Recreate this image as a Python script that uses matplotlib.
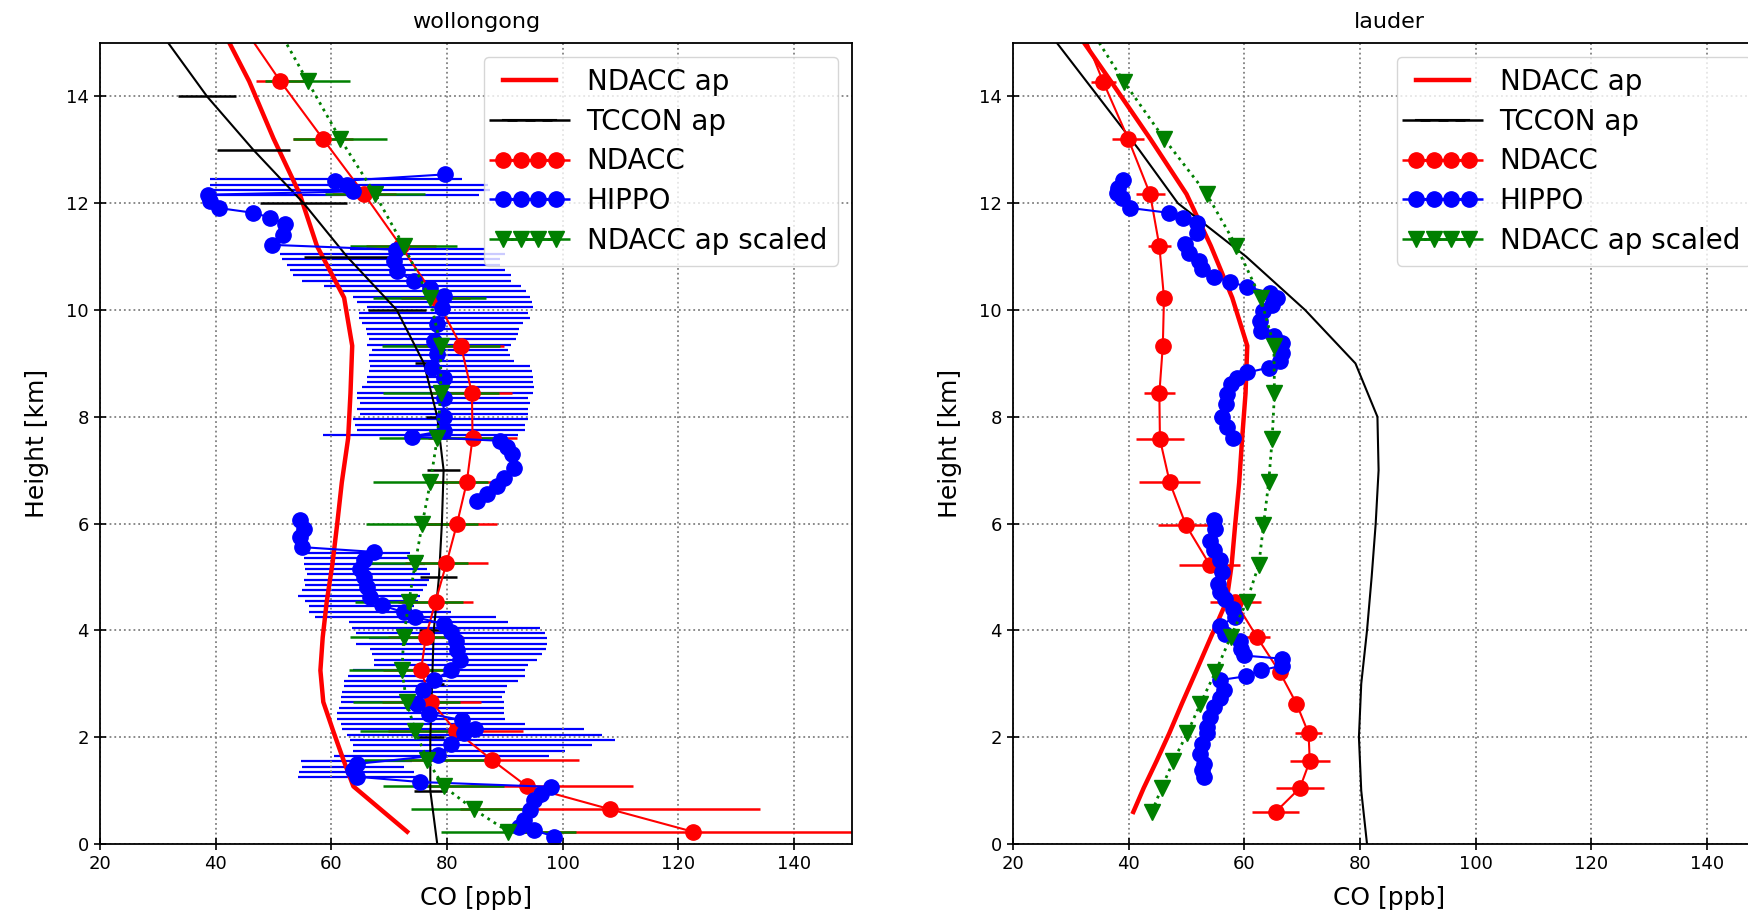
import matplotlib
matplotlib.use("Agg")
import matplotlib.pyplot as plt

nan = float('nan')  # gap in the HIPPO profile

# ---------------- wollongong ----------------
wol_h = [0.23, 0.65, 1.08, 1.57, 2.12, 2.66, 3.25, 3.87, 4.54, 5.26, 5.99,
         6.77, 7.60, 8.44, 9.33, 10.23, 11.2, 12.18, 13.21, 14.28, 15.5]
wol_ndacc = [122.5, 108.2, 93.8, 87.8, 81.5, 77.3, 75.5, 76.3, 78.0, 79.9, 81.7,
             83.4, 84.4, 84.3, 82.4, 78.0, 72.0, 65.6, 58.5, 51.2, 43.5]
wol_ndacc_err = [30, 25.9, 18.3, 15, 11.7, 8.6, 6.5, 6.5, 6.5, 7.2, 7.0,
                 7.0, 7.7, 7.0, 7.4, 6.0, 6.0, 5.5, 5.2, 4.2, 4.0]
wol_ap = [73.1, 68.5, 63.8, 62.1, 60.3, 58.6, 58.1, 58.5, 59.2, 60.2, 61.0,
          61.8, 62.9, 63.3, 63.6, 62.2, 57.5, 54.5, 50.0, 45.8, 40.0]
wol_scaled = [90.6, 84.6, 79.4, 76.6, 74.5, 73.0, 72.2, 72.5, 73.4, 74.5, 75.7,
              77.1, 78.3, 78.9, 78.9, 77.0, 72.5, 67.5, 61.5, 55.9, 49.6]
wol_scaled_err = [11.7, 10.9, 10.4, 10.9, 9.5, 9.2, 9.2, 9.2, 9.4, 9.2, 9.7,
                  9.9, 10, 10, 10.2, 9.8, 9.2, 8.6, 8.1, 7.3, 7.0]

tccon_h = [0, 1, 2, 3, 4, 5, 6, 7, 8, 9, 10, 11, 12, 13, 14, 15, 16]
wol_tccon = [78.3, 77.1, 77.1, 77.4, 77.7, 78.6, 79.1, 79.4, 78.3, 76.0, 71.3,
             62.7, 55.2, 46.5, 38.5, 31.8, 25.0]
wol_tccon_err = [2.7, 2.9, 2.3, 2.0, 2.5, 3.2, 2.5, 2.8, 2.0, 1.5, 5.0,
                 7.4, 7.5, 6.3, 5.0, 0, 0]

wol_hippo_h = [12.54, 12.41, 12.34, 12.22, 12.16, 12.04, 11.91, 11.82, 11.73, 11.61,
               11.41, 11.22, 11.13, 10.92, 10.73, 10.54, 10.42, 10.26, 10.04, 9.73,
               9.42, 9.17, 8.92, 8.73, 8.36, 7.99, 7.74, 7.63, 7.55, 7.43,
               7.30, 7.05, 6.86, 6.71, 6.55, 6.43, 6.25, 6.06, 5.90, 5.74, 5.56,
               5.47, 5.31, 5.15, 5.00, 4.81, 4.62, 4.47, 4.34, 4.25, 4.12,
               3.97, 3.81, 3.63, 3.44, 3.25, 3.07, 2.88, 2.63, 2.44, 2.32,
               2.16, 2.07, 1.88, 1.66, 1.50, 1.38, 1.26, 1.16, 1.07, 0.94,
               0.82, 0.64, 0.45, 0.32, 0.26, 0.14]
wol_hippo = [79.7, 60.7, 62.7, 63.8, 38.7, 39.0, 40.5, 46.5, 49.4, 52.0,
             51.7, 49.7, 71.1, 70.8, 71.3, 74.2, 77.1, 79.4, 79.1, 78.3,
             77.7, 78.3, 77.4, 79.4, 79.4, 79.4, 79.4, 73.9, 89.2, 90.4,
             91.3, 91.6, 89.8, 88.6, 86.9, 85.2, nan, 54.6, 55.2, 54.6, 54.9,
             67.3, 65.6, 65.0, 65.6, 66.2, 66.7, 68.7, 72.5, 74.5, 79.4,
             80.6, 81.5, 81.7, 82.3, 80.6, 77.7, 75.9, 74.8, 76.8, 82.6,
             84.9, 82.9, 80.6, 78.5, 64.4, 63.8, 64.4, 75.4, 97.9, 96.2,
             95.0, 94.4, 93.3, 92.4, 95.0, 98.5]

# HIPPO spread (left / right end of each horizontal bar)
bar_h = [12.45, 12.35, 12.25, 12.15,
         11.15, 11.05, 10.95, 10.85, 10.75, 10.65, 10.55, 10.45, 10.35, 10.25,
         10.15, 10.05, 9.95, 9.85, 9.75, 9.65, 9.55, 9.45, 9.35, 9.25,
         9.15, 9.05, 8.95, 8.85, 8.75, 8.65, 8.55, 8.45, 8.35, 8.25,
         8.15, 8.05, 7.95, 7.85, 7.75, 7.65,
         5.45, 5.35, 5.25, 5.15, 5.05, 4.95, 4.85, 4.75, 4.65, 4.55,
         4.45, 4.35, 4.25, 4.15, 4.05, 3.95, 3.85, 3.75, 3.65, 3.55,
         3.45, 3.35, 3.25, 3.15, 3.05, 2.95, 2.85, 2.75, 2.65, 2.55,
         2.45, 2.35, 2.25, 2.15, 2.05, 1.95, 1.85, 1.75, 1.65, 1.55,
         1.45, 1.35, 1.25]
bar_lo = [39.0, 39.0, 39.5, 38.8,
          63.3, 51.2, 51.5, 52.3, 52.9, 53.3, 55.0, 58.7, 61.5, 63.8,
          64.4, 66.2, 64.8, 64.8, 65.3, 66.0, 66.2, 66.5, 66.2, 67.0,
          66.5, 66.5, 66.7, 66.5, 66.2, 66.2, 65.3, 64.4, 64.4, 65.0,
          64.4, 65.0, 63.8, 64.0, 64.4, 58.6,
          54.9, 55.2, 55.2, 55.5, 55.8, 55.2, 55.5, 54.9, 54.3, 55.5,
          56.1, 56.1, 57.1, 63.0, 63.6, 64.2, 66.5, 64.2, 66.7, 67.0,
          67.3, 67.3, 63.8, 62.9, 62.2, 62.2, 61.9, 61.6, 61.6, 61.3,
          60.9, 60.9, 61.6, 61.9, 62.7, 63.3, 63.8, 63.8, 60.5, 54.7,
          55.0, 54.4, 54.2]
bar_hi = [82.6, 87.0, 87.5, 85.5,
          86.6, 90.0, 89.2, 89.2, 90.0, 91.1, 91.1, 92.8, 93.7, 94.3,
          94.6, 94.8, 94.0, 94.3, 93.1, 92.5, 92.2, 92.0, 91.1, 90.5,
          90.8, 91.5, 94.3, 94.6, 94.8, 94.8, 95.1, 94.8, 94.0, 94.3,
          94.0, 94.0, 94.0, 93.5, 93.5, 92.2,
          73.6, 75.9, 76.2, 76.5, 77.1, 76.8, 76.5, 75.9, 75.3, 75.0,
          74.2, 80.6, 88.4, 90.6, 96.1, 97.0, 97.3, 97.3, 97.1, 96.4,
          95.5, 94.0, 93.5, 93.5, 92.3, 90.3, 90.0, 89.5, 89.8, 89.8,
          89.8, 90.0, 93.5, 103.6, 106.8, 109.1, 105.0, 100.4, 97.6, 74.0,
          72.6, 74.3, 75.9]

# ---------------- lauder ----------------
lau_h = [0.60, 1.05, 1.55, 2.07, 2.63, 3.22, 3.87, 4.54, 5.23, 5.97,
         6.77, 7.58, 8.44, 9.33, 10.23, 11.2, 12.17, 13.21, 14.27, 15.5]
lau_ndacc = [65.4, 69.6, 71.3, 71.1, 69.0, 66.1, 62.2, 58.4, 54.0, 49.9,
             47.1, 45.4, 45.3, 45.9, 46.1, 45.3, 43.7, 39.9, 35.6, 31.0]
lau_ndacc_err = [4.1, 4.1, 3.5, 2.3, 0.5, 0.5, 2.3, 4.4, 5.3, 4.8,
                 5.3, 4.2, 2.7, 0.5, 0.5, 2.0, 2.5, 2.7, 2.2, 2.0]
lau_ap = [40.8, 42.6, 44.8, 47.0, 49.2, 51.6, 54.2, 56.9, 57.8, 58.4,
          59.1, 59.6, 60.2, 60.5, 57.9, 54.2, 50.0, 43.7, 37.0, 29.1]
lau_scaled = [44.0, 45.7, 47.7, 50.1, 52.4, 55.0, 57.6, 60.4, 62.5, 63.3,
              64.2, 64.8, 65.2, 65.1, 62.8, 58.6, 53.5, 46.1, 39.2, 32.0]
lau_tccon = [81.2, 80.2, 79.8, 80.2, 81.2, 82.0, 82.7, 83.2, 83.0, 79.2,
             70.5, 60.3, 48.5, 41.8, 34.7, 27.6, 20.5]

lau_hippo_h = [12.44, 12.29, 12.19, 12.10, 11.91, 11.82, 11.73, 11.63, 11.45, 11.23,
               11.07, 10.92, 10.76, 10.62, 10.53, 10.43, 10.32, 10.23, 10.10, 9.98,
               9.80, 9.60, 9.51, 9.39, 9.20, 9.05, 8.92, 8.83, 8.73, 8.61,
               8.42, 8.24, 7.99, 7.80, 7.61, 6.80, 6.06, 5.90, 5.68, 5.50, 5.31,
               5.10, 4.87, 4.72, 4.59, 4.40, 4.25, 4.09, 3.94, 3.81, 3.66,
               3.53, 3.47, 3.34, 3.25, 3.14, 3.07, 2.88, 2.73, 2.57, 2.38,
               2.19, 2.07, 1.88, 1.69, 1.50, 1.38, 1.26]
lau_hippo = [39.0, 38.2, 38.0, 38.8, 40.3, 46.9, 49.4, 51.8, 51.8, 49.8,
             50.4, 52.1, 52.7, 54.7, 57.5, 60.5, 64.5, 65.7, 64.8, 63.3,
             62.7, 62.8, 65.1, 66.5, 66.5, 66.2, 64.2, 60.5, 58.7, 57.6,
             57.0, 56.8, 56.1, 57.0, 58.1, nan, 54.7, 55.0, 54.1, 54.7, 55.8,
             56.1, 55.5, 55.8, 56.7, 58.1, 58.4, 55.8, 56.7, 59.3, 59.5,
             59.9, 66.5, 66.5, 62.8, 60.2, 55.8, 56.4, 55.8, 54.7, 54.1,
             53.5, 53.5, 52.7, 52.4, 53.0, 52.7, 53.0]

xticks = [20, 40, 60, 80, 100, 120, 140]
yticks = [0, 2, 4, 6, 8, 10, 12, 14]

fig = plt.figure(figsize=(17.49, 9.16), dpi=100)
ax1 = fig.add_axes([100 / 1749, 72 / 916, 752 / 1749, 801 / 916])
ax2 = fig.add_axes([1013 / 1749, 72 / 916, 752 / 1749, 801 / 916])

# wollongong spread of HIPPO (drawn first, under everything)
ax1.hlines(bar_h, bar_lo, bar_hi, colors='b', lw=1.6, zorder=1)

panels = [
    (ax1, 'wollongong', wol_h, wol_ndacc, wol_ndacc_err, wol_ap, wol_scaled,
     wol_scaled_err, wol_tccon, wol_tccon_err, wol_hippo_h, wol_hippo),
    (ax2, 'lauder', lau_h, lau_ndacc, lau_ndacc_err, lau_ap, lau_scaled,
     [0] * len(lau_h), lau_tccon, [0] * len(tccon_h), lau_hippo_h, lau_hippo),
]

for ax, title, h, nd, nd_err, ap, sc, sc_err, tc, tc_err, hh, hp in panels:
    ax.plot(ap, h, 'r-', lw=3.2, label='NDACC ap')
    ax.errorbar(tc, tccon_h, xerr=tc_err, fmt='k-', lw=1.5, elinewidth=1.8,
                label='TCCON ap')
    ax.errorbar(nd, h, xerr=nd_err, fmt='r-o', ms=11, lw=1.5, elinewidth=1.8,
                label='NDACC')
    ax.errorbar(hp, hh, xerr=[0] * len(hh), fmt='b-o', ms=11, lw=1.5,
                elinewidth=1.8, label='HIPPO')
    ax.errorbar(sc, h, xerr=sc_err, fmt='gv:', ms=11, lw=2, elinewidth=1.8,
                label='NDACC ap scaled')

    ax.set_xlim(20, 150)
    ax.set_ylim(0, 15)
    ax.set_xticks(xticks)
    ax.set_yticks(yticks)
    ax.tick_params(labelsize=13, direction='inout', length=9, width=1.2)
    ax.grid(True, ls=':', color='gray', lw=1.3)
    for s in ax.spines.values():
        s.set_linewidth(1.3)
    ax.set_title(title, fontsize=16, pad=11)
    ax.set_xlabel('CO [ppb]', fontsize=18, labelpad=9)
    ax.set_ylabel('Height [km]', fontsize=18, labelpad=12)
    ax.legend(loc='upper right', fontsize=20, numpoints=4,
              handlelength=2.5, labelspacing=0.42)

fig.savefig('out.png', dpi=100)
